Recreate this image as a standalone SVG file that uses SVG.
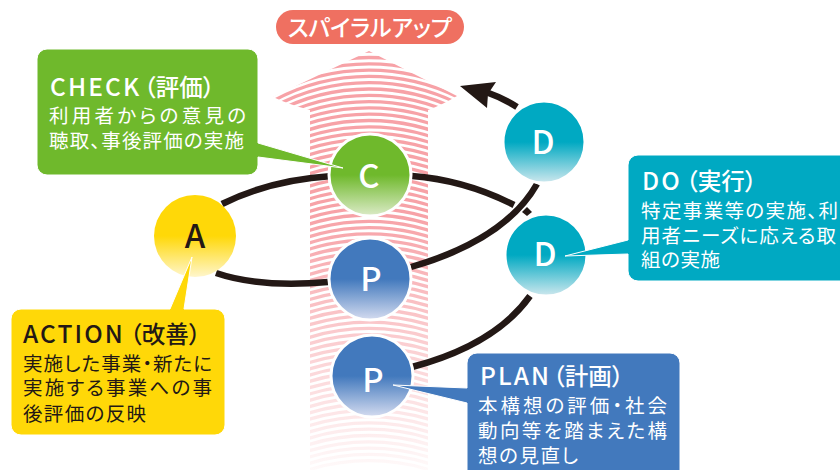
<svg xmlns="http://www.w3.org/2000/svg" width="840" height="470" viewBox="0 0 840 470">
<style>
.t{font-family:"Noto Sans CJK JP","Noto Sans",sans-serif;font-feature-settings:"palt";fill:#fff}
.k{fill:#231815}
.h{font-size:24.5px;font-weight:500;letter-spacing:2.1px}
.p{letter-spacing:0;font-size:23.5px}
.b{font-size:19.5px;font-weight:400}
.l{font-size:33px;font-weight:500;text-anchor:middle}
.c{fill:none;stroke:#231815;stroke-width:6.5}
.n{stroke:#fff;stroke-width:3}
.box{stroke:#fff;stroke-width:1}
</style>
<defs>
<linearGradient id="fade" gradientUnits="userSpaceOnUse" x1="0" y1="215" x2="0" y2="485"><stop offset="0" stop-color="#f7a2a7"/><stop offset="1" stop-color="#fff"/></linearGradient>
<linearGradient id="gC" x1="0" y1="0" x2="0" y2="1"><stop offset=".5" stop-color="#6fb92c"/><stop offset="1" stop-color="#dcebc8"/></linearGradient>
<linearGradient id="gP" x1="0" y1="0" x2="0" y2="1"><stop offset=".5" stop-color="#4279bd"/><stop offset="1" stop-color="#d5dcf0"/></linearGradient>
<linearGradient id="gD" x1="0" y1="0" x2="0" y2="1"><stop offset=".5" stop-color="#00a9c2"/><stop offset="1" stop-color="#cfe8ee"/></linearGradient>
<linearGradient id="gA" x1="0" y1="0" x2="0" y2="1"><stop offset=".5" stop-color="#ffd808"/><stop offset="1" stop-color="#fff6cc"/></linearGradient>
<clipPath id="arrow"><path d="M369 51L457 96Q442 105 428 110V470H310V110Q290 105 273 97Z"/></clipPath>
</defs>
<rect width="840" height="470" fill="#fff"/>
<g id="spiral-arrow" clip-path="url(#arrow)">
<path fill="none" stroke="url(#fade)" stroke-width="3.3" d="M269 78a200 200 0 0 1 200 0m-200 6.3a200 200 0 0 1 200 0m-200 6.3a200 200 0 0 1 200 0m-200 6.3a200 200 0 0 1 200 0m-200 6.3a200 200 0 0 1 200 0m-200 6.3a200 200 0 0 1 200 0m-200 6.3a200 200 0 0 1 200 0m-200 6.3a200 200 0 0 1 200 0m-200 6.3a200 200 0 0 1 200 0m-200 6.3a200 200 0 0 1 200 0m-200 6.3a200 200 0 0 1 200 0m-200 6.3a200 200 0 0 1 200 0m-200 6.3a200 200 0 0 1 200 0m-200 6.3a200 200 0 0 1 200 0m-200 6.3a200 200 0 0 1 200 0m-200 6.3a200 200 0 0 1 200 0m-200 6.3a200 200 0 0 1 200 0m-200 6.3a200 200 0 0 1 200 0m-200 6.3a200 200 0 0 1 200 0m-200 6.3a200 200 0 0 1 200 0m-200 6.3a200 200 0 0 1 200 0m-200 6.3a200 200 0 0 1 200 0m-200 6.3a200 200 0 0 1 200 0m-200 6.3a200 200 0 0 1 200 0m-200 6.3a200 200 0 0 1 200 0m-200 6.3a200 200 0 0 1 200 0m-200 6.3a200 200 0 0 1 200 0m-200 6.3a200 200 0 0 1 200 0m-200 6.3a200 200 0 0 1 200 0m-200 6.3a200 200 0 0 1 200 0m-200 6.3a200 200 0 0 1 200 0m-200 6.3a200 200 0 0 1 200 0m-200 6.3a200 200 0 0 1 200 0m-200 6.3a200 200 0 0 1 200 0m-200 6.3a200 200 0 0 1 200 0m-200 6.3a200 200 0 0 1 200 0m-200 6.3a200 200 0 0 1 200 0m-200 6.3a200 200 0 0 1 200 0m-200 6.3a200 200 0 0 1 200 0m-200 6.3a200 200 0 0 1 200 0m-200 6.3a200 200 0 0 1 200 0m-200 6.3a200 200 0 0 1 200 0m-200 6.3a200 200 0 0 1 200 0m-200 6.3a200 200 0 0 1 200 0m-200 6.3a200 200 0 0 1 200 0m-200 6.3a200 200 0 0 1 200 0m-200 6.3a200 200 0 0 1 200 0m-200 6.3a200 200 0 0 1 200 0m-200 6.3a200 200 0 0 1 200 0m-200 6.3a200 200 0 0 1 200 0m-200 6.3a200 200 0 0 1 200 0m-200 6.3a200 200 0 0 1 200 0m-200 6.3a200 200 0 0 1 200 0m-200 6.3a200 200 0 0 1 200 0m-200 6.3a200 200 0 0 1 200 0m-200 6.3a200 200 0 0 1 200 0m-200 6.3a200 200 0 0 1 200 0m-200 6.3a200 200 0 0 1 200 0m-200 6.3a200 200 0 0 1 200 0m-200 6.3a200 200 0 0 1 200 0m-200 6.3a200 200 0 0 1 200 0m-200 6.3a200 200 0 0 1 200 0m-200 6.3a200 200 0 0 1 200 0m-200 6.3a200 200 0 0 1 200 0m-200 6.3a200 200 0 0 1 200 0m-200 6.3a200 200 0 0 1 200 0"/>
</g>
<g id="connectors">
<path class="c" d="M222 204Q270 180 332 176"/>
<path class="c" d="M412 176Q465 180 514 205"/>
<path class="c" d="M216 273Q260 288 328 282"/>
<path class="c" d="M411 267Q505 240 537 184"/>
<path class="c" d="M412 367Q495 345 530 296"/>
<path d="M522 212l5-5 5 5-5 4z" fill="#231815"/>
<path class="c" d="M517 107Q503 98 486 92"/>
<path d="M460 86L496 82L488 94L487 108Z" fill="#231815"/>
</g>
<g id="spiral-up">
<rect x="276" y="10" width="188" height="34" rx="17" fill="#ef7061"/>
<text class="t" x="288" y="36" font-size="23" font-weight="500" textLength="164" lengthAdjust="spacing">スパイラルアップ</text>
</g>
<g id="node-c"><circle class="n" cx="370" cy="175" r="41" fill="url(#gC)"/><text class="t l" x="369" y="188">C</text></g>
<g id="node-p1"><circle class="n" cx="370" cy="279" r="41" fill="url(#gP)"/><text class="t l" x="371" y="291">P</text></g>
<g id="node-p2"><circle class="n" cx="372" cy="376" r="41" fill="url(#gP)"/><text class="t l" x="373" y="392">P</text></g>
<g id="node-d1"><circle class="n" cx="544" cy="142" r="41" fill="url(#gD)"/><text class="t l" x="543" y="154">D</text></g>
<g id="node-d2"><circle class="n" cx="546" cy="255" r="41" fill="url(#gD)"/><text class="t l" x="545" y="266">D</text></g>
<g id="node-a"><circle cx="195" cy="236" r="41" fill="url(#gA)"/><text class="t k l" x="195" y="248" style="fill:#231815">A</text></g>
<g id="check">
<path class="box" d="M47 49H248a10 10 0 0 1 10 10V143L343 168L258 157V165a10 10 0 0 1-10 10H47a10 10 0 0 1-10-10V59a10 10 0 0 1 10-10Z" fill="#6fb92c"/>
<text class="t h" x="50" y="96">CHECK<tspan class="p" x="144">（評価）</tspan></text>
<text class="t b" x="49" y="123" textLength="197">利用者からの意見の</text>
<text class="t b" x="49" y="148" textLength="195">聴取、事後評価の実施</text>
</g>
<g id="do">
<path class="box" d="M638 155H841V281H638a10 10 0 0 1-10-10V254L565 256L628 240V165a10 10 0 0 1 10-10Z" fill="#00a9c2"/>
<text class="t h" x="642" y="190">DO<tspan class="p" x="686">（実行）</tspan></text>
<text class="t b" x="641" y="218" textLength="197">特定事業等の実施、利</text>
<text class="t b" x="641" y="243" textLength="195">用者ニーズに応える取</text>
<text class="t b" x="641" y="267" textLength="79">組の実施</text>
</g>
<g id="plan">
<path class="box" d="M477 353H670a10 10 0 0 1 10 10V471H467V403L393 385L467 388V363a10 10 0 0 1 10-10Z" fill="#4279bd"/>
<text class="t h" x="480" y="385">PLAN<tspan class="p" x="553">（計画）</tspan></text>
<text class="t b" x="478" y="413" textLength="189">本構想の評価・社会</text>
<text class="t b" x="478" y="438" textLength="189">動向等を踏まえた構</text>
<text class="t b" x="478" y="463" textLength="100">想の見直し</text>
</g>
<g id="action">
<path class="box" d="M21 309H170L192 257L184 309H215a10 10 0 0 1 10 10V425a10 10 0 0 1-10 10H21a10 10 0 0 1-10-10V319a10 10 0 0 1 10-10Z" fill="#ffd808"/>
<text class="t k h" x="23" y="343" style="fill:#231815">ACTION<tspan class="p" x="130">（改善）</tspan></text>
<text class="t k b" x="23" y="371" textLength="189" style="fill:#231815">実施した事業・新たに</text>
<text class="t k b" x="23" y="395" textLength="189" style="fill:#231815">実施する事業への事</text>
<text class="t k b" x="23" y="421" textLength="123" style="fill:#231815">後評価の反映</text>
</g>
</svg>
